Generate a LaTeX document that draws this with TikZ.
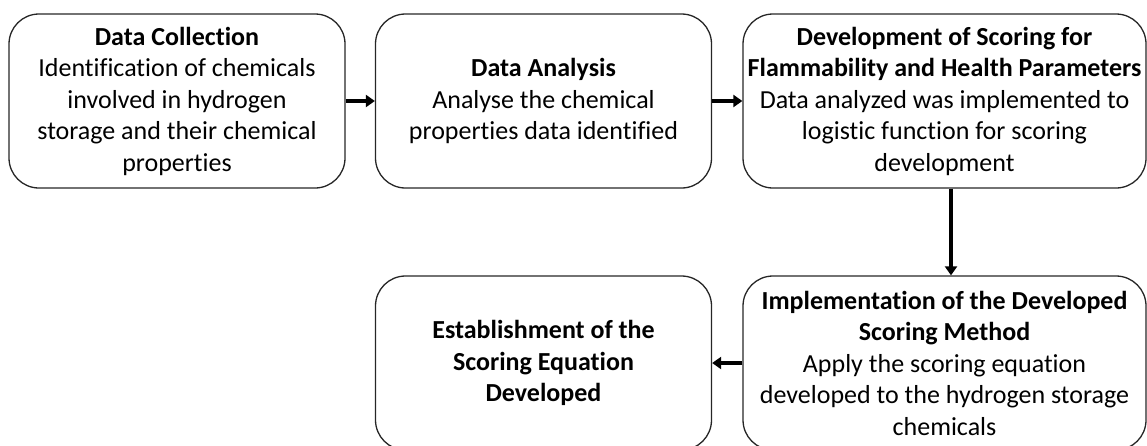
\documentclass[tikz,border=0pt]{standalone}
\usepackage{fontspec}
\setmainfont{Carlito}[Ligatures={NoCommon,NoContextual}, RawFeature={-liga;-clig;-dlig}]
\usetikzlibrary{arrows.meta}
\begin{document}
\begin{tikzpicture}[x=1pt,y=-1pt,
  stepbox/.style={draw=black!85, line width=1.3pt, rounded corners=30pt,
    align=center, inner sep=0pt, minimum height=174pt,
    font=\fontsize{26}{31.5}\selectfont},
  flow/.style={line width=3.4pt, -{Triangle[length=9pt,width=12pt]}}]
  \useasboundingbox (0,0) rectangle (1147,445);
  \clip (0,0) rectangle (1147,445);
  % top row
  \node[stepbox, minimum width=336pt] (b1) at (177,101)
    {\textbf{Data Collection}\\Identification of chemicals\\involved in hydrogen\\storage and their chemical\\properties};
  \node[stepbox, minimum width=336pt] (b2) at (543.5,101)
    {\textbf{Data Analysis}\\Analyse the chemical\\properties data identified};
  \node[stepbox, minimum width=403pt] (b3) at (944.5,101)
    {\textbf{Development of Scoring for}\\\textbf{Flammability and Health Parameters}\\Data analyzed was implemented to\\logistic function for scoring\\development};
  % bottom row
  \node[stepbox, minimum width=403pt] (b4) at (944.5,363)
    {\textbf{Implementation of the Developed}\\\textbf{Scoring Method}\\Apply the scoring equation\\developed to the hydrogen storage\\chemicals};
  \node[stepbox, minimum width=336pt] (b5) at (543.5,363)
    {\textbf{Establishment of the}\\\textbf{Scoring Equation}\\\textbf{Developed}};
  % connectors
  \draw[flow] (b1) -- (b2);
  \draw[flow] (b2) -- (b3);
  \draw[flow] ([xshift=6.5pt]b3.south) -- ([xshift=6.5pt]b4.north);
  \draw[flow] (b4) -- (b5);
\end{tikzpicture}
\end{document}
